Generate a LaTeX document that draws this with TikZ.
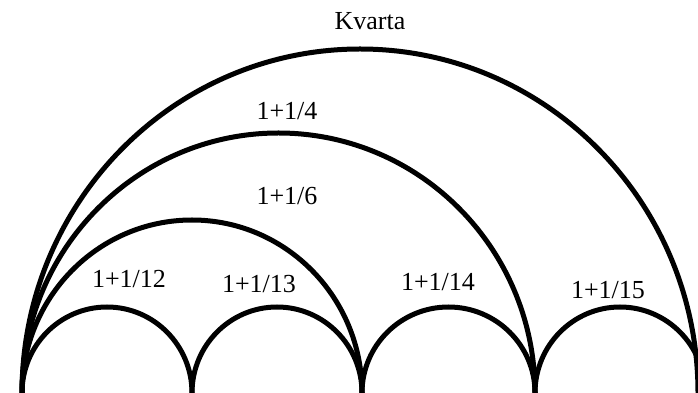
\documentclass[tikz,border=0pt]{standalone}
\usepackage{fontspec}
\setmainfont{Liberation Serif}
\begin{document}
\begin{tikzpicture}[x=1pt,y=1pt,
  arcline/.style={line width=5pt, line cap=butt},
  lab/.style={inner sep=0pt, font=\fontsize{26}{26}\selectfont}]
\useasboundingbox (0,0) rectangle (698,393);
\clip (0,0) rectangle (698,393);
\fill[white] (0,0) rectangle (698,393);
% small arcs
\draw[arcline] (22,-5) -- (22,0) arc[start angle=180,end angle=0,x radius=85,y radius=86] -- ++(0,-5);
\draw[arcline] (192,-5) -- (192,0) arc[start angle=180,end angle=0,x radius=85,y radius=86] -- ++(0,-5);
\draw[arcline] (362,-5) -- (362,0) arc[start angle=180,end angle=0,x radius=86.5,y radius=86] -- ++(0,-5);
\draw[arcline] (535,-5) -- (535,0) arc[start angle=180,end angle=0,x radius=85,y radius=86] -- ++(0,-5);
% large arcs
\draw[arcline] (22,-5) -- (22,0) arc[start angle=180,end angle=0,x radius=170,y radius=173] -- ++(0,-5);
\draw[arcline] (22,-5) -- (22,0) arc[start angle=180,end angle=0,x radius=256.5,y radius=260] -- ++(0,-5);
\draw[arcline] (22,-5) -- (22,0) arc[start angle=180,end angle=0,x radius=338,y radius=344] -- ++(0,-5);
% labels
\node[lab] (kv) at (370,372) {Kvarta};
\node[lab] (q4) at (287,282) {1+1/4};
\node[lab] (q6) at (287,197) {1+1/6};
\node[lab] (q12) at (129,114) {1+1/12};
\node[lab] (q13) at (259,109) {1+1/13};
\node[lab] (q14) at (438,111) {1+1/14};
\node[lab] (q15) at (608,103) {1+1/15};
\end{tikzpicture}
\end{document}
